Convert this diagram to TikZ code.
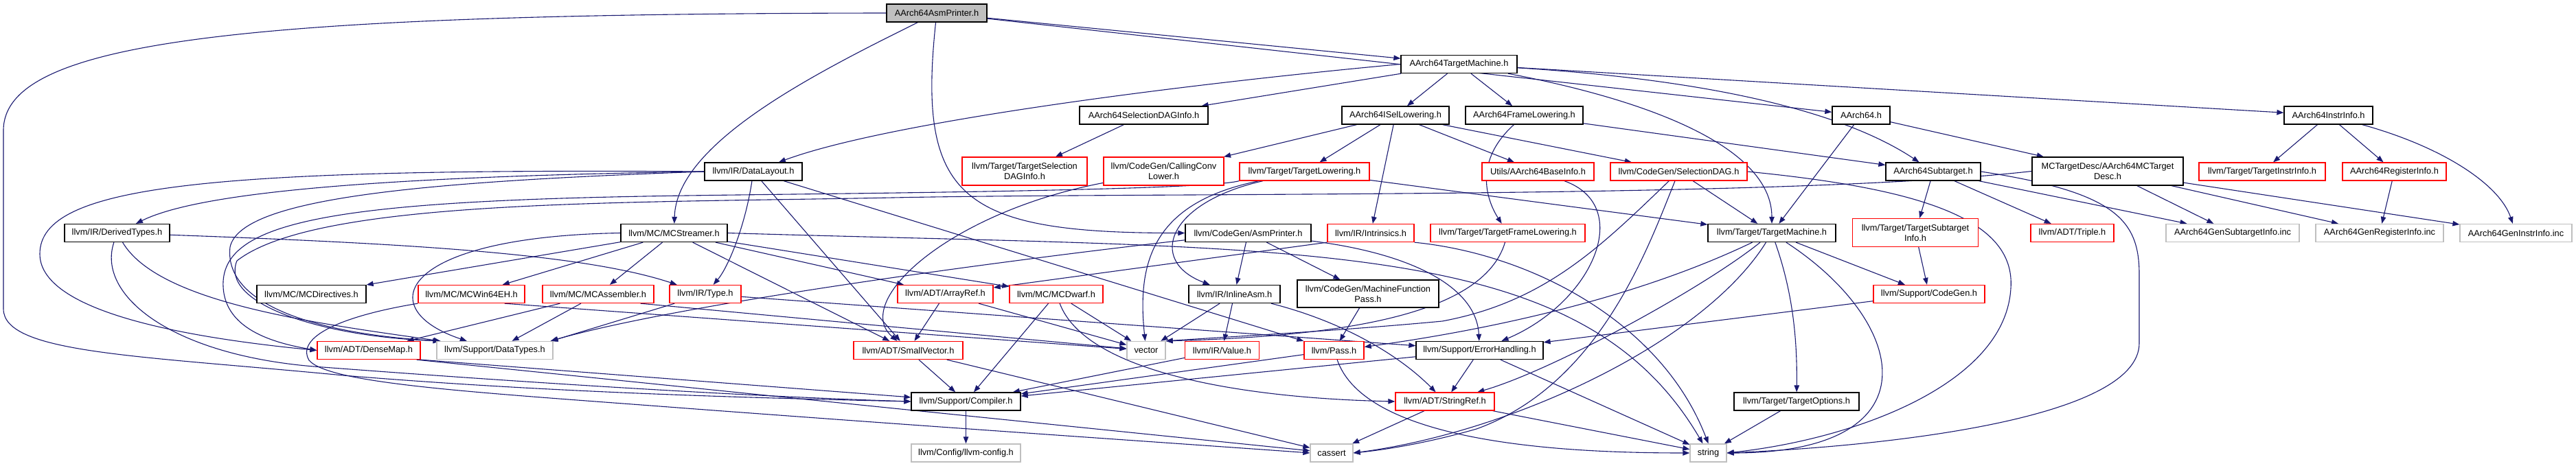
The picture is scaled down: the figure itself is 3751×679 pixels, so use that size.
\documentclass[tikz,border=0pt]{standalone}
\usepackage{fontspec}
\setmainfont{Liberation Sans}
\usetikzlibrary{arrows.meta,backgrounds}
\definecolor{edgec}{HTML}{191970}
\definecolor{grayb}{HTML}{BFBFBF}
\definecolor{redb}{HTML}{FF0000}
\begin{document}
\begin{tikzpicture}[x=1pt,y=-1pt,
  nd/.style={draw=black, line width=1.3pt, fill=white, font=\fontsize{12.8pt}{15pt}\selectfont,
    inner xsep=2pt, inner ysep=0pt, minimum height=26pt, align=center, text=black},
  rd/.style={nd, draw=redb},
  gr/.style={nd, draw=grayb},
  two/.style={minimum height=41pt},
  e/.style={draw=edgec, line width=1.1pt, -{Triangle[length=10pt,width=7.5pt]}}]
\useasboundingbox (0,0) rectangle (3751,679);
% ---------- nodes ----------
\node[nd, fill=grayb, minimum width=146pt] (root) at (1364,19) {AArch64AsmPrinter.h};
\node[nd, minimum width=169pt] (tm) at (2124.5,93.5) {AArch64TargetMachine.h};
\node[nd, minimum width=187pt] (seldag) at (1665.5,168) {AArch64SelectionDAGInfo.h};
\node[nd, minimum width=156pt] (isel) at (2032,168) {AArch64ISelLowering.h};
\node[nd, minimum width=171pt] (frame) at (2219.5,168) {AArch64FrameLowering.h};
\node[nd, minimum width=84pt] (a64) at (2710,168) {AArch64.h};
\node[nd, minimum width=129pt] (instr) at (3390.5,168) {AArch64InstrInfo.h};
\node[nd, minimum width=142pt] (datalayout) at (1097,250) {llvm/IR/DataLayout.h};
\node[rd, two, minimum width=182pt] (tsdi) at (1492,249.5) {llvm/Target/TargetSelection\\DAGInfo.h};
\node[rd, two, minimum width=175pt] (ccl) at (1694.5,249.5) {llvm/CodeGen/CallingConv\\Lower.h};
\node[rd, minimum width=189pt] (tlow) at (1899.5,250) {llvm/Target/TargetLowering.h};
\node[rd, minimum width=163pt] (baseinfo) at (2239.5,250) {Utils/AArch64BaseInfo.h};
\node[rd, minimum width=199pt] (seldagh) at (2444.5,250) {llvm/CodeGen/SelectionDAG.h};
\node[nd, minimum width=138pt] (subt) at (2815,250) {AArch64Subtarget.h};
\node[nd, two, minimum width=220pt] (mctd) at (3069,249.5) {MCTargetDesc/AArch64MCTarget\\Desc.h};
\node[rd, minimum width=184pt] (tii) at (3294,250) {llvm/Target/TargetInstrInfo.h};
\node[rd, minimum width=151pt] (reginfo) at (3486.5,250) {AArch64RegisterInfo.h};
\node[nd, minimum width=153pt] (derived) at (170.5,339.5) {llvm/IR/DerivedTypes.h};
\node[nd, minimum width=155pt] (mcstreamer) at (981.5,339.5) {llvm/MC/MCStreamer.h};
\node[nd, minimum width=183pt] (asmp) at (1817.5,339.5) {llvm/CodeGen/AsmPrinter.h};
\node[rd, minimum width=126pt] (intrinsics) at (1996,339.5) {llvm/IR/Intrinsics.h};
\node[rd, minimum width=225pt] (tfl) at (2195.5,339.5) {llvm/Target/TargetFrameLowering.h};
\node[nd, minimum width=186pt] (ltm) at (2580,339.5) {llvm/Target/TargetMachine.h};
\node[rd, two, minimum width=183pt] (tsi) at (2789,339) {llvm/Target/TargetSubtarget\\Info.h};
\node[rd, minimum width=121pt] (triple) at (3017.5,339.5) {llvm/ADT/Triple.h};
\node[gr, minimum width=194pt] (gensub) at (3251,339.5) {AArch64GenSubtargetInfo.inc};
\node[gr, minimum width=186pt] (genreg) at (3465,339.5) {AArch64GenRegisterInfo.inc};
\node[gr, minimum width=163pt] (geninstr) at (3663.5,339.5) {AArch64GenInstrInfo.inc};
\node[nd, minimum width=159pt] (mcdir) at (453.5,428.5) {llvm/MC/MCDirectives.h};
\node[rd, minimum width=155pt] (win64) at (686.5,428.5) {llvm/MC/MCWin64EH.h};
\node[rd, minimum width=162pt] (mcasm) at (871,428.5) {llvm/MC/MCAssembler.h};
\node[rd, minimum width=104pt] (type) at (1027,428.5) {llvm/IR/Type.h};
\node[rd, minimum width=139pt] (arrayref) at (1376.5,428.5) {llvm/ADT/ArrayRef.h};
\node[rd, minimum width=136pt] (mcdwarf) at (1538,428.5) {llvm/MC/MCDwarf.h};
\node[nd, minimum width=133pt] (inlineasm) at (1797.5,428.5) {llvm/IR/InlineAsm.h};
\node[nd, two, minimum height=40pt, minimum width=206pt] (mfp) at (1992,428) {llvm/CodeGen/MachineFunction\\Pass.h};
\node[rd, minimum width=162pt] (codegen) at (2809,428.5) {llvm/Support/CodeGen.h};
\node[rd, minimum width=150pt] (densemap) at (537,510.5) {llvm/ADT/DenseMap.h};
\node[gr, minimum width=169pt] (datatypes) at (720.5,510.5) {llvm/Support/DataTypes.h};
\node[rd, minimum width=159pt] (smallvec) at (1322.5,510.5) {llvm/ADT/SmallVector.h};
\node[gr, minimum width=56pt] (vector) at (1669,510.5) {vector};
\node[rd, minimum width=108pt] (value) at (1779.5,510.5) {llvm/IR/Value.h};
\node[rd, minimum width=87pt] (pass) at (1942.5,510.5) {llvm/Pass.h};
\node[nd, minimum width=185pt] (errh) at (2154.5,510.5) {llvm/Support/ErrorHandling.h};
\node[nd, minimum width=159pt] (compiler) at (1406.5,585) {llvm/Support/Compiler.h};
\node[rd, minimum width=144pt] (stringref) at (2104,585) {llvm/ADT/StringRef.h};
\node[nd, minimum width=182pt] (topts) at (2616,585) {llvm/Target/TargetOptions.h};
\node[gr, minimum width=159pt] (config) at (1406.5,660) {llvm/Config/llvm-config.h};
\node[gr, minimum width=62pt] (cassert) at (1939,660) {cassert};
\node[gr, minimum width=53pt] (string) at (2487.5,660) {string};
% ---------- edges ----------
\begin{pgfonlayer}{background}
% root
\draw[e] (root.west) .. controls (350,20) and (5,60) .. (5,190) -- (5,450) .. controls (5,515) and (200,518) .. (500,547) .. controls (800,572) and (1100,580) .. (compiler.west);
\draw[e] (root) .. controls (1180,110) and (985,210) .. (mcstreamer);
\draw[e] (root) .. controls (1335,290) and (1400,340) .. (asmp.west);
\draw[e] (root) -- (tm);
\draw[e] (root) -- (a64);
% AArch64TargetMachine.h
\draw[e] (tm.west) .. controls (1750,120) and (1300,175) .. (datalayout);
\draw[e] (tm) -- (seldag);
\draw[e] (tm) -- (isel);
\draw[e] (tm) -- (frame);
\draw[e] (tm) .. controls (2420,150) and (2580,220) .. (ltm);
\draw[e] (tm) .. controls (2550,120) and (2710,180) .. (subt);
\draw[e] (tm) -- (instr);
% second row
\draw[e] (seldag) -- (tsdi);
\draw[e] (isel) -- (ccl);
\draw[e] (isel) -- (tlow);
\draw[e] (isel) -- (intrinsics);
\draw[e] (isel) -- (baseinfo);
\draw[e] (isel) -- (seldagh);
\draw[e] (frame) -- (subt);
\draw[e] (frame) .. controls (2140,240) and (2170,300) .. (tfl);
\draw[e] (a64) -- (mctd);
\draw[e] (a64) -- (ltm);
\draw[e] (instr) -- (tii);
\draw[e] (instr) -- (reginfo);
\draw[e] (instr) .. controls (3560,215) and (3640,270) .. (geninstr);
\draw[e] (reginfo) -- (genreg);
\draw[e] (mctd) -- (gensub);
\draw[e] (mctd) -- (genreg);
\draw[e] (mctd) -- (geninstr);
\draw[e] (mctd.west) .. controls (2600,290) and (1700,280) .. (1300,288) .. controls (900,296) and (460,290) .. (345,380) .. controls (320,440) and (460,490) .. ([xshift=5pt]datatypes.north west);
% AArch64Subtarget.h
\draw[e] (subt) -- (tsi);
\draw[e] (subt) -- (triple);
\draw[e] (subt) -- (gensub);
\draw[e] (subt.east) .. controls (3080,280) and (3115,320) .. (3115,400) -- (3115,500) .. controls (3115,610) and (2750,650) .. (string.east);
% llvm/CodeGen/SelectionDAG.h
\draw[e] (seldagh) -- (ltm);
\draw[e] (seldagh.east) .. controls (2800,275) and (2935,320) .. (2928,420) .. controls (2920,560) and (2700,640) .. (string.east);
\draw[e] (seldagh) .. controls (2330,360) and (2250,440) .. (2100,468) .. controls (1950,482) and (1800,490) .. (vector.north east);
\draw[e] (seldagh) .. controls (2400,360) and (2330,560) .. (2150,625) .. controls (2080,645) and (2020,655) .. (cassert.east);
% llvm/Target/TargetLowering.h
\draw[e] (tlow) .. controls (1700,295) and (1670,380) .. (inlineasm);
\draw[e] (tlow) .. controls (1680,295) and (1655,380) .. (vector);
\draw[e] (tlow) -- (ltm);
\draw[e] (tlow.south west) .. controls (1750,278) and (1200,282) .. (1000,285) .. controls (500,292) and (330,320) .. (325,410) .. controls (322,480) and (400,500) .. (densemap.west);
% others of row 2
\draw[e] (ccl) .. controls (1380,310) and (1240,440) .. (smallvec);
\draw[e] (baseinfo) .. controls (2380,300) and (2320,440) .. (errh);
% row 3
\draw[e] (intrinsics.south west) -- (arrayref);
\draw[e] (intrinsics.south east) .. controls (2230,370) and (2420,470) .. (string.north);
\draw[e] (tfl) .. controls (2160,460) and (1950,490) .. (vector.north east);
\draw[e] (ltm) .. controls (2350,450) and (2100,490) .. ([yshift=5pt]pass.east);
\draw[e] (ltm) .. controls (2480,420) and (2260,540) .. (stringref);
\draw[e] (ltm) .. controls (2480,500) and (2200,630) .. (cassert.east);
\draw[e] (ltm) .. controls (2612,430) and (2617,500) .. (topts);
\draw[e] (ltm) .. controls (2780,470) and (2820,660) .. (string.east);
\draw[e] (ltm) -- (codegen);
\draw[e] (tsi) -- (codegen);
\draw[e] (codegen) -- (errh);
\draw[e] (asmp) -- (inlineasm);
\draw[e] (asmp) -- (mfp);
\draw[e] (asmp) .. controls (2060,370) and (2150,420) .. (errh);
\draw[e] (asmp) .. controls (1500,375) and (1000,440) .. ([xshift=-4pt]datatypes.north east);
\draw[e] (derived) .. controls (600,355) and (850,370) .. (type);
\draw[e] (derived) .. controls (140,430) and (250,520) .. (470,535) .. controls (800,560) and (1100,578) .. (compiler.west);
\draw[e] (derived) .. controls (230,440) and (450,470) .. ([xshift=6pt]datatypes.north west);
\draw[e] (mcstreamer) -- (mcdir);
\draw[e] (mcstreamer) -- (win64);
\draw[e] (mcstreamer) -- (mcasm);
\draw[e] (mcstreamer.west) .. controls (580,345) and (540,450) .. (datatypes);
\draw[e] (mcstreamer) -- (arrayref);
\draw[e] (mcstreamer) -- (mcdwarf);
\draw[e] (mcstreamer) -- (smallvec);
\draw[e] (mcstreamer.east) .. controls (1900,365) and (2300,340) .. (string);
\draw[e] (datalayout) .. controls (1085,330) and (1060,390) .. (type);
\draw[e] (datalayout) -- (smallvec);
\draw[e] (datalayout) -- (pass);
\draw[e] (datalayout.west) .. controls (500,258) and (280,285) .. (derived);
\draw[e] (datalayout.west) .. controls (300,245) and (58,270) .. (58,370) .. controls (58,450) and (250,490) .. (densemap.west);
\draw[e] (datalayout.west) .. controls (600,265) and (350,290) .. (335,360) .. controls (325,450) and (480,488) .. ([xshift=6pt]datatypes.north west);
% row 4
\draw[e] ([xshift=-30pt]win64.south east) -- (vector);
\draw[e] (win64.south west) .. controls (500,460) and (430,490) .. (450,525) .. controls (480,560) and (700,572) .. (1000,595) .. controls (1400,625) and (1700,645) .. (cassert.west);
\draw[e] (mcasm) -- (densemap);
\draw[e] (mcasm) -- (datatypes);
\draw[e] ([xshift=-20pt]mcasm.south east) -- (vector);
\draw[e] (type) -- ([xshift=-3pt]datatypes.north east);
\draw[e] (type) -- (errh);
\draw[e] (arrayref) -- (smallvec);
\draw[e] (arrayref) -- (vector);
\draw[e] (mcdwarf) -- (compiler);
\draw[e] (mcdwarf) -- (vector);
\draw[e] (mcdwarf) .. controls (1580,540) and (1800,580) .. (stringref.west);
\draw[e] (inlineasm) -- (vector);
\draw[e] (inlineasm) -- (value);
\draw[e] (inlineasm) .. controls (1960,470) and (2040,520) .. (stringref);
\draw[e] (mfp) -- (pass);
% row 5
\draw[e] (densemap.south east) -- (compiler);
\draw[e] ([xshift=-6pt]densemap.south east) -- (cassert);
\draw[e] (smallvec) -- (compiler);
\draw[e] (smallvec) -- (cassert);
\draw[e] (value) -- (compiler);
\draw[e] (pass) -- (compiler);
\draw[e] (pass) .. controls (1990,650) and (2300,660) .. (string.west);
\draw[e] (errh) -- (compiler);
\draw[e] (errh) -- (stringref);
\draw[e] (errh) -- (string);
% row 6
\draw[e] (compiler) -- (config);
\draw[e] (stringref) -- (cassert);
\draw[e] (stringref) -- (string);
\draw[e] (topts) -- (string);
\end{pgfonlayer}
\end{tikzpicture}
\end{document}
